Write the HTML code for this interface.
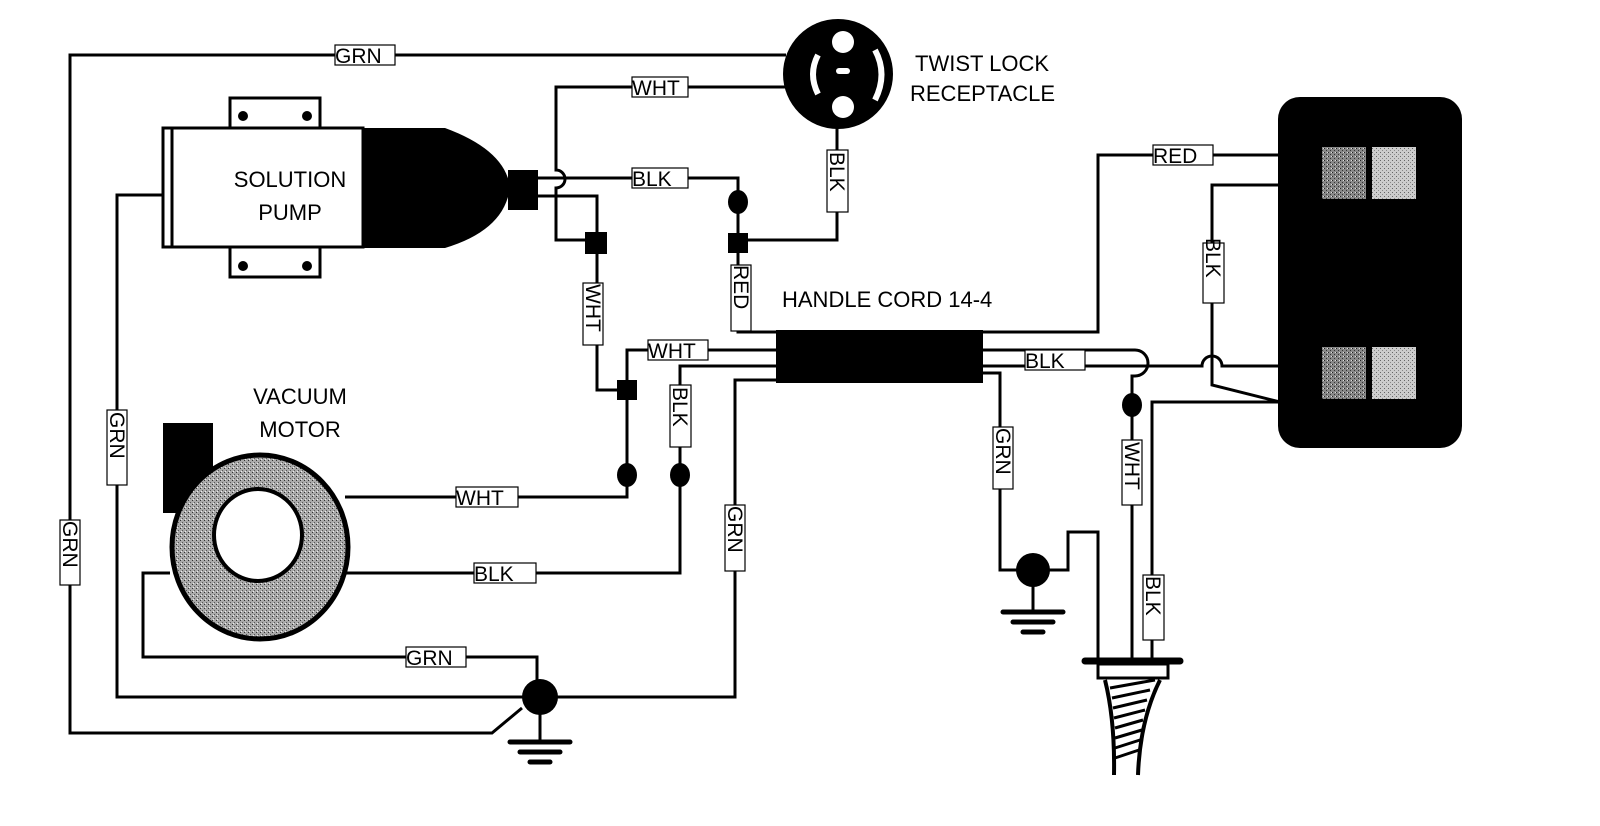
<!DOCTYPE html>
<html><head><meta charset="utf-8"><style>html,body{margin:0;padding:0;background:#fff}svg{display:block}</style></head><body>
<svg width="1600" height="826" viewBox="0 0 1600 826" xmlns="http://www.w3.org/2000/svg" font-family="Liberation Sans, sans-serif">
<defs>
<pattern id="dk" width="4" height="4" patternUnits="userSpaceOnUse"><rect width="4" height="4" fill="#888"/><rect width="1" height="1" fill="#222"/><rect x="2" y="2" width="1" height="1" fill="#333"/><rect x="3" y="0" width="1" height="1" fill="#ddd"/></pattern>
<pattern id="lt" width="4" height="4" patternUnits="userSpaceOnUse"><rect width="4" height="4" fill="#ccc"/><rect width="1" height="1" fill="#666"/><rect x="2" y="2" width="1" height="1" fill="#888"/></pattern>
<pattern id="tor" width="4" height="4" patternUnits="userSpaceOnUse"><rect width="4" height="4" fill="#aaa"/><rect width="1" height="1" fill="#333"/><rect x="2" y="2" width="1" height="1" fill="#555"/><rect x="1" y="3" width="1" height="1" fill="#eee"/></pattern>
</defs>
<g fill="none" stroke="#000" stroke-width="3">
<polyline points="786,55 70,55 70,733 492,733 522,708"/>
<path d="M786,87 H556 V170 A9,9 0 0 1 556,188 V240 H597"/>
<path d="M538,178 H738 V332 H776"/>
<path d="M538,196 H597 V390 H627"/>
<path d="M837,128 V240 H738"/>
<path d="M627,390 V350 H776"/>
<path d="M627,390 V497 H345"/>
<path d="M776,366 H680 V573 H345"/>
<path d="M776,380 H735 V697 H540"/>
<path d="M163,195 H117 V697 H540"/>
<path d="M170,573 H143 V657 H537 V697"/>
<path d="M540,697 V740"/>
<path d="M983,332 H1098 V155 H1280"/>
<path d="M983,350 H1135 A12,12 0 0 1 1135,376 H1132 V660"/>
<path d="M983,366 H1202 A10,10 0 0 1 1222,366 H1280"/>
<path d="M1280,185 H1212 V385 L1280,402"/>
<path d="M1280,402 H1152 V660"/>
<path d="M983,373 H1000 V570 H1033 M1033,570 H1068 V532 H1098 V660"/>
<path d="M1033,570 V610"/>
</g>
<g stroke="#000" stroke-width="5" stroke-linecap="round">
<line x1="510" y1="742" x2="570" y2="742"/><line x1="520" y1="752" x2="560" y2="752"/><line x1="530" y1="762" x2="550" y2="762"/>
<line x1="1003" y1="612" x2="1063" y2="612"/><line x1="1013" y1="622" x2="1053" y2="622"/><line x1="1023" y1="632" x2="1043" y2="632"/>
</g>
<g fill="#000">
<circle cx="540" cy="697" r="18"/>
<circle cx="1033" cy="570" r="17"/>
<ellipse cx="738" cy="202" rx="10" ry="12"/>
<ellipse cx="627" cy="475" rx="10" ry="12"/>
<ellipse cx="680" cy="475" rx="10" ry="12"/>
<ellipse cx="1132" cy="405" rx="10" ry="12"/>
<rect x="585" y="232" width="22" height="22"/>
<rect x="728" y="233" width="20" height="20"/>
<rect x="617" y="380" width="20" height="20"/>
<rect x="776" y="330" width="207" height="53"/>
<path d="M363,128 H445 Q505,150 510,187 Q505,230 445,248 H363 Z"/>
<rect x="508" y="170" width="30" height="40"/>
<rect x="163" y="423" width="50" height="90"/>
<rect x="1278" y="97" width="184" height="351" rx="22"/>
</g>
<g stroke="#000" stroke-width="3" fill="#fff">
<rect x="230" y="98" width="90" height="30"/><rect x="230" y="247" width="90" height="30"/>
<rect x="163" y="128" width="200" height="119"/>
<line x1="172" y1="128" x2="172" y2="247"/>
</g>
<g fill="#000"><circle cx="243" cy="116" r="5"/><circle cx="307" cy="116" r="5"/><circle cx="243" cy="266" r="5"/><circle cx="307" cy="266" r="5"/></g>
<ellipse cx="260" cy="547" rx="88" ry="92" fill="url(#tor)" stroke="#000" stroke-width="5"/>
<ellipse cx="258" cy="535" rx="44" ry="46" fill="#fff" stroke="#000" stroke-width="4"/>
<circle cx="838" cy="74" r="55" fill="#000"/>
<circle cx="843" cy="42" r="11" fill="#fff"/>
<circle cx="843" cy="107" r="11" fill="#fff"/>
<rect x="836" y="68" width="14" height="6" rx="3" fill="#fff"/>
<path d="M818,55 Q808,74 818,94" stroke="#fff" stroke-width="6" fill="none"/>
<path d="M875,50 Q888,74 875,100" stroke="#fff" stroke-width="6" fill="none"/>
<rect x="1322" y="147" width="44" height="52" fill="url(#dk)"/><rect x="1372" y="147" width="44" height="52" fill="url(#lt)"/>
<rect x="1322" y="347" width="44" height="52" fill="url(#dk)"/><rect x="1372" y="347" width="44" height="52" fill="url(#lt)"/>
<g stroke="#000" fill="none">
<line x1="1085" y1="661" x2="1180" y2="661" stroke-width="7" stroke-linecap="round"/>
<rect x="1098" y="664" width="70" height="14" stroke-width="3" fill="#fff"/>
<path d="M1105,680 Q1115,720 1114,775 M1160,680 Q1140,720 1138,775" stroke-width="4"/>
<path d="M1110,688 L1155,680 M1112,698 L1150,690 M1113,708 L1147,700 M1114,718 L1145,710 M1115,728 L1143,720 M1115,738 L1142,730 M1115,748 L1140,740 M1115,758 L1139,750" stroke-width="3"/>
</g>
<g stroke="#000" stroke-width="1.2" fill="#fff">
<rect x="335" y="45" width="60" height="20"/><rect x="632" y="77" width="56" height="20"/>
<rect x="632" y="168" width="56" height="20"/><rect x="1153" y="145" width="60" height="20"/>
<rect x="1025" y="350" width="60" height="20"/><rect x="648" y="340" width="60" height="20"/>
<rect x="456" y="487" width="62" height="20"/><rect x="474" y="563" width="62" height="20"/>
<rect x="406" y="647" width="60" height="20"/>
<rect x="827" y="150" width="21" height="62"/><rect x="731" y="265" width="20" height="66"/>
<rect x="583" y="283" width="20" height="62"/><rect x="670" y="385" width="21" height="62"/>
<rect x="725" y="505" width="20" height="66"/><rect x="107" y="410" width="20" height="75"/>
<rect x="60" y="520" width="20" height="65"/><rect x="993" y="427" width="20" height="62"/>
<rect x="1122" y="440" width="20" height="65"/><rect x="1143" y="575" width="21" height="65"/>
<rect x="1203" y="243" width="21" height="60"/>
</g>
<g font-size="21" fill="#000">
<text x="335" y="63">GRN</text><text x="632" y="95">WHT</text><text x="632" y="186">BLK</text>
<text x="1153" y="163">RED</text><text x="1025" y="368">BLK</text><text x="648" y="358">WHT</text>
<text x="456" y="505">WHT</text><text x="474" y="581">BLK</text><text x="406" y="665">GRN</text>
<text transform="translate(830,152) rotate(90)">BLK</text>
<text transform="translate(734,265) rotate(90)">RED</text>
<text transform="translate(586,284) rotate(90)">WHT</text>
<text transform="translate(673,387) rotate(90)">BLK</text>
<text transform="translate(728,506) rotate(90)">GRN</text>
<text transform="translate(110,412) rotate(90)">GRN</text>
<text transform="translate(63,521) rotate(90)">GRN</text>
<text transform="translate(996,428) rotate(90)">GRN</text>
<text transform="translate(1125,442) rotate(90)">WHT</text>
<text transform="translate(1146,576) rotate(90)">BLK</text>
<text transform="translate(1206,238) rotate(90)">BLK</text>
</g>
<g font-size="22" fill="#000">
<text x="782" y="307">HANDLE CORD 14-4</text>
<text x="915" y="71">TWIST LOCK</text><text x="910" y="101">RECEPTACLE</text>
<text x="290" y="187" text-anchor="middle">SOLUTION</text><text x="290" y="220" text-anchor="middle">PUMP</text>
<text x="300" y="404" text-anchor="middle">VACUUM</text><text x="300" y="437" text-anchor="middle">MOTOR</text>
</g>
</svg>
</body></html>
